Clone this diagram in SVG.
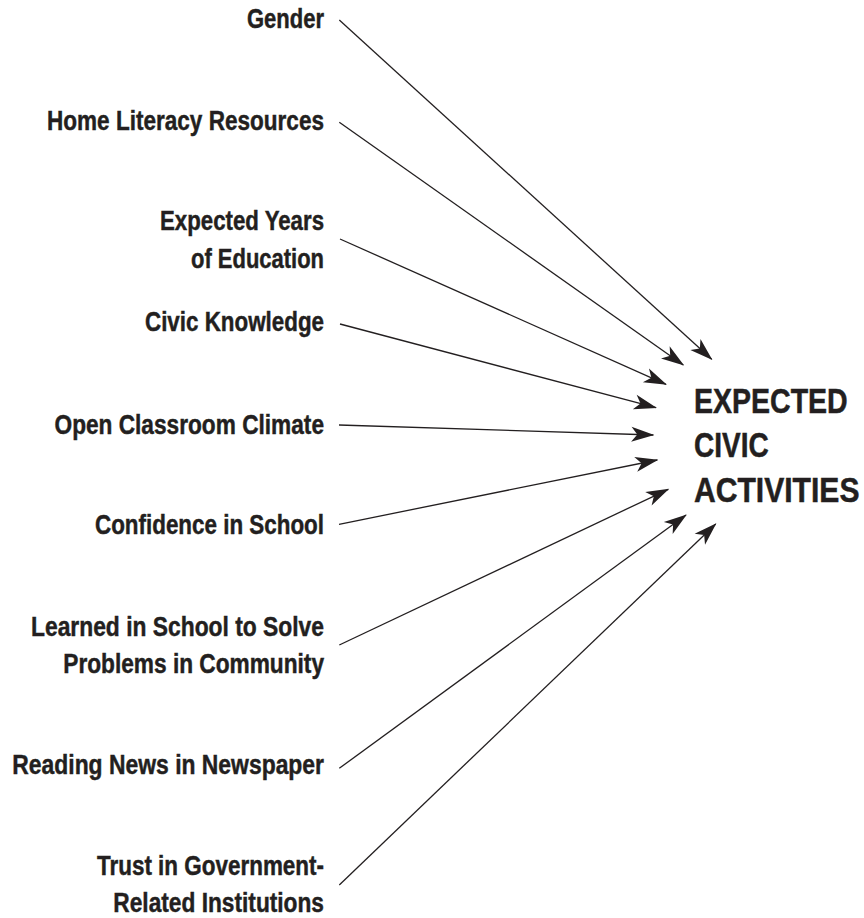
<svg xmlns="http://www.w3.org/2000/svg" width="864" height="918" viewBox="0 0 864 918">
  <style>
    .lbl { font-family: "Liberation Sans", Arial, sans-serif; font-weight: bold; font-size: 27px; fill: #231f20; stroke: #231f20; stroke-width: 0.45; text-anchor: end; }
    .ttl { font-family: "Liberation Sans", Arial, sans-serif; font-weight: bold; font-size: 35px; fill: #231f20; stroke: #231f20; stroke-width: 0.5; }
    .edge { stroke: #231f20; stroke-width: 1.3; fill: none; marker-end: url(#head); }
  </style>
  <defs>
    <marker id="head" markerUnits="userSpaceOnUse" markerWidth="30" markerHeight="20" viewBox="-24 -10 26 20" refX="0" refY="0" orient="auto" overflow="visible">
      <path d="M1,0 L-22,-7.5 L-16,0 L-22,7.5 Z" fill="#231f20"/>
    </marker>
  </defs>
  <rect width="864" height="918" fill="#ffffff"/>

  <!-- predictors -->
  <g id="gender"><text class="lbl" x="324" y="28" textLength="77" lengthAdjust="spacingAndGlyphs">Gender</text></g>
  <g id="home-literacy"><text class="lbl" x="324" y="129.5" textLength="277" lengthAdjust="spacingAndGlyphs">Home Literacy Resources</text></g>
  <g id="expected-years">
    <text class="lbl" x="324" y="230" textLength="164" lengthAdjust="spacingAndGlyphs">Expected Years</text>
    <text class="lbl" x="324" y="268" textLength="133" lengthAdjust="spacingAndGlyphs">of Education</text>
  </g>
  <g id="civic-knowledge"><text class="lbl" x="324" y="331" textLength="179" lengthAdjust="spacingAndGlyphs">Civic Knowledge</text></g>
  <g id="open-classroom"><text class="lbl" x="324" y="433.5" textLength="269.5" lengthAdjust="spacingAndGlyphs">Open Classroom Climate</text></g>
  <g id="confidence-school"><text class="lbl" x="324" y="534" textLength="229" lengthAdjust="spacingAndGlyphs">Confidence in School</text></g>
  <g id="learned-school">
    <text class="lbl" x="324" y="636" textLength="293" lengthAdjust="spacingAndGlyphs">Learned in School to Solve</text>
    <text class="lbl" x="324" y="673" textLength="260.7" lengthAdjust="spacingAndGlyphs">Problems in Community</text>
  </g>
  <g id="reading-news"><text class="lbl" x="324" y="774" textLength="311.7" lengthAdjust="spacingAndGlyphs">Reading News in Newspaper</text></g>
  <g id="trust-government">
    <text class="lbl" x="324" y="875" textLength="227" lengthAdjust="spacingAndGlyphs">Trust in Government-</text>
    <text class="lbl" x="324" y="912" textLength="210.7" lengthAdjust="spacingAndGlyphs">Related Institutions</text>
  </g>

  <!-- outcome: condensed by horizontal scaling -->
  <g id="expected-civic-activities">
    <text class="ttl" transform="translate(694 412.7) scale(0.815 1)">EXPECTED</text>
    <text class="ttl" transform="translate(694 457.3) scale(0.8 1)">CIVIC</text>
    <text class="ttl" transform="translate(694 501.7) scale(0.86 1)">ACTIVITIES</text>
  </g>

  <!-- connectors -->
  <g id="connectors">
    <line class="edge" x1="339.3" y1="20" x2="711.7" y2="359.3"/>
    <line class="edge" x1="339.3" y1="122.3" x2="683.3" y2="365"/>
    <line class="edge" x1="340" y1="239" x2="666" y2="384.3"/>
    <line class="edge" x1="340" y1="324" x2="656" y2="407.7"/>
    <line class="edge" x1="339" y1="425" x2="653.3" y2="435"/>
    <line class="edge" x1="339" y1="524.3" x2="657.3" y2="460"/>
    <line class="edge" x1="339.3" y1="645" x2="668.3" y2="489.3"/>
    <line class="edge" x1="339.3" y1="768.3" x2="686" y2="515"/>
    <line class="edge" x1="339.3" y1="885" x2="715.7" y2="524"/>
  </g>
</svg>
